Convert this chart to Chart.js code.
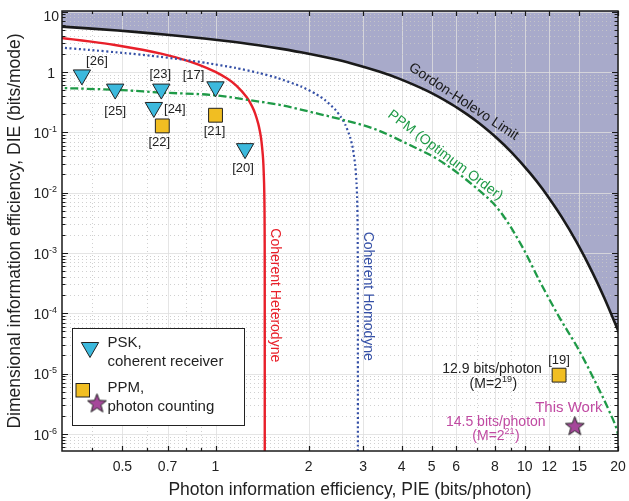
<!DOCTYPE html>
<html lang="en">
<head>
<meta charset="UTF-8">
<title>PIE vs DIE</title>
<script src="https://cdn.jsdelivr.net/npm/chart.js@4"></script>
<style>
  html, body { margin: 0; padding: 0; background: #fff; }
</style>
</head>
<body>
<canvas id="pieChart" width="629" height="501"></canvas>
<script>
    // Gordon-Holevo limit (x: PIE bits/photon, y: DIE bits/mode)
    const holevoPIE = [0.290, 0.3278, 0.4834, 0.6212, 0.780, 1.0817, 1.3774, 1.6183, 2.0, 2.3737, 2.7549, 3.3772, 3.9002, 4.8345, 5.8001, 6.523, 7.1008, 8.0937, 9.090, 10.410, 11.409, 13.145, 14.730, 16.467, 18.052, 19.789, 20.374];
    const holevoDIE = [5.80, 5.572, 4.834, 4.3485, 3.9002, 3.2451, 2.7549, 2.4274, 2.0, 1.6616, 1.3774, 1.0132, 0.7800, 0.48345, 0.2900, 0.19569, 0.14202, 0.080937, 0.045451, 0.020820, 0.011409, 3.944e-3, 1.473e-3, 4.940e-4, 1.8052e-4, 5.937e-5, 4.075e-5];

    // Coherent heterodyne
    const heteroPIE = [0.3084, 0.3459, 0.3962, 0.4679, 0.5805, 0.6667, 0.7925, 0.8813, 1.0, 1.0936, 1.1699, 1.2617, 1.3152, 1.3442, 1.3750, 1.3944, 1.4078, 1.4215, 1.4285, 1.4355, 1.4391, 1.4405, 1.4420, 1.4426, 1.4427, 1.4427];
    const heteroDIE = [3.7004, 3.4594, 3.1699, 2.8074, 2.3219, 2.0, 1.585, 1.3219, 1.0, 0.76553, 0.58496, 0.37851, 0.26303, 0.20163, 0.13750, 0.09761, 0.070389, 0.042644, 0.028569, 0.014355, 0.0071955, 0.0043214, 1.442e-3, 1.4427e-4, 1.4427e-5, 4.0e-7];

    // Coherent homodyne
    const homoPIE = [0.2679, 0.3153, 0.3870, 0.5109, 0.6167, 0.7925, 0.9358, 1.1610, 1.3757, 1.5850, 1.8959, 2.1200, 2.2602, 2.4271, 2.5439, 2.6303, 2.7250, 2.7758, 2.8292, 2.8569, 2.8682, 2.8797, 2.8846, 2.8853, 2.8854];
    const homoDIE = [2.6788, 2.5222, 2.3219, 2.0437, 1.8502, 1.5850, 1.4037, 1.1610, 0.9630, 0.7925, 0.5688, 0.4240, 0.3390, 0.24271, 0.17807, 0.13152, 0.08175, 0.055515, 0.028292, 0.014285, 0.0086046, 0.0028797, 2.8846e-4, 2.8853e-5, 4.0e-7];

    // PPM (optimum order)
    const ppmPIE = [0.30, 0.50, 0.66, 1.0, 1.27, 1.63, 2.08, 2.55, 3.25, 4.16, 5.31, 6.81, 8.27, 9.86, 11.13, 12.9, 14.96, 16.96, 18.66, 19.9, 20.5];
    const ppmDIE = [0.545, 0.498, 0.455, 0.409, 0.344, 0.280, 0.210, 0.163, 0.114, 0.0645, 0.0338, 0.0131, 5.05e-3, 1.2e-3, 3.5e-4, 8.7e-5, 2.44e-5, 6.96e-6, 2.5e-6, 1.09e-6, 5.5e-7];

    // experiments
    const pskRefs = ['[26]', '[25]', '[23]', '[24]', '[17]', '[20]'];
    const pskPIE = [0.370, 0.474, 0.668, 0.632, 1.0, 1.246];
    const pskDIE = [0.89, 0.518, 0.518, 0.257, 0.565, 0.0534];

    const ppmRefs = ['[22]', '[21]', '[19]'];
    const ppmExpPIE = [0.673, 1.0, 12.9];
    const ppmExpDIE = [0.127, 0.191, 9.4e-6];

    const thisWorkPIE = [14.5];
    const thisWorkDIE = [1.36e-6];

    // axes
    const xTickValues = [0.4, 0.5, 0.6, 0.7, 0.8, 0.9, 1, 2, 3, 4, 5, 6, 7, 8, 9, 10, 12, 15, 20];
    const xTickLabels = ['', '0.5', '', '0.7', '', '', '1', '2', '3', '4', '5', '6', '', '8', '', '10', '12', '15', '20'];
    const yDecades = [1e-6, 1e-5, 1e-4, 1e-3, 1e-2, 1e-1, 1, 10];
    const yTickLabels = ['10^-6', '10^-5', '10^-4', '10^-3', '10^-2', '10^-1', '1', '10'];

    const FONT = "'Liberation Sans', Arial, Helvetica, sans-serif";
    Chart.defaults.font.family = FONT;

    const toPoints = (xs, ys) => xs.map((x, i) => ({x: x, y: ys[i]}));

    // y ticks: every 1..9 x 10^k inside the range
    const yMin = 5.2e-7, yMax = 10.2;
    const yAllTicks = [];
    for (let e = -7; e <= 1; e++) {
        for (let m = 1; m <= 9; m++) {
            const v = m * Math.pow(10, e);
            if (v >= yMin && v <= yMax) yAllTicks.push(v);
        }
    }
    const isDecade = v => yDecades.some(d => Math.abs(d - v) / d < 1e-6);

    // filled five-point star for "This Work"
    function makeStar(size, fill) {
        const c = document.createElement('canvas');
        c.width = size; c.height = size;
        const g = c.getContext('2d');
        const cx = size / 2, cy = size / 2 + 0.8, ro = size / 2 - 1.5, ri = ro * 0.42;
        g.beginPath();
        for (let i = 0; i < 10; i++) {
            const r = i % 2 ? ri : ro;
            const a = -Math.PI / 2 + i * Math.PI / 5;
            g.lineTo(cx + r * Math.cos(a), cy + r * Math.sin(a));
        }
        g.closePath();
        g.fillStyle = fill; g.fill();
        g.lineWidth = 1; g.strokeStyle = '#222'; g.stroke();
        return c;
    }
    const starImg = makeStar(23, '#a5479a');

    // text with superscripts: parts = [[text, isSup], ...]
    function drawRich(ctx, parts, x, y, align, size, color) {
        const supSize = Math.round(size * 0.66);
        let w = 0;
        parts.forEach(p => {
            ctx.font = (p[1] ? supSize : size) + 'px ' + FONT;
            w += ctx.measureText(p[0]).width;
        });
        let cx = align === 'center' ? x - w / 2 : (align === 'right' ? x - w : x);
        ctx.fillStyle = color;
        ctx.textAlign = 'left';
        ctx.textBaseline = 'middle';
        parts.forEach(p => {
            ctx.font = (p[1] ? supSize : size) + 'px ' + FONT;
            ctx.fillText(p[0], cx, p[1] ? y - size * 0.34 : y);
            cx += ctx.measureText(p[0]).width + (p[1] ? 0.5 : 0);
        });
    }

    function drawText(ctx, text, x, y, size, color, angleDeg, align) {
        ctx.save();
        ctx.translate(x, y);
        ctx.rotate((angleDeg || 0) * Math.PI / 180);
        ctx.font = size + 'px ' + FONT;
        ctx.fillStyle = color;
        ctx.textAlign = align || 'center';
        ctx.textBaseline = 'middle';
        ctx.fillText(text, 0, 0);
        ctx.restore();
    }

    // label offsets (pixels) from each marker
    const refOffsets = {
        '[26]': [15, -13], '[25]': [0, 22], '[23]': [-1, -15], '[24]': [21, 2],
        '[17]': [-22, -11], '[20]': [-2, 20], '[22]': [-3, 16], '[21]': [-1, 16.5], '[19]': [0, -15]
    };

    const paperPlugin = {
        id: 'paper',
        // grid goes over the shaded region but under the curves
        beforeDatasetsDraw(chart) {
            const ctx = chart.ctx, a = chart.chartArea;
            const xs = chart.scales.x, ys = chart.scales.y;
            ctx.save();
            ctx.lineWidth = 1;
            xTickValues.forEach((v, i) => {
                const p = Math.round(xs.getPixelForValue(v)) + 0.5;
                const major = xTickLabels[i] !== '';
                ctx.strokeStyle = major ? 'rgba(222,222,222,0.8)' : 'rgba(200,200,200,0.85)';
                ctx.setLineDash(major ? [] : [1, 3]);
                ctx.beginPath(); ctx.moveTo(p, a.top); ctx.lineTo(p, a.bottom); ctx.stroke();
            });
            yAllTicks.forEach(v => {
                const p = Math.round(ys.getPixelForValue(v)) + 0.5;
                const major = isDecade(v);
                ctx.strokeStyle = major ? 'rgba(222,222,222,0.8)' : 'rgba(200,200,200,0.85)';
                ctx.setLineDash(major ? [] : [1, 3]);
                ctx.beginPath(); ctx.moveTo(a.left, p); ctx.lineTo(a.right, p); ctx.stroke();
            });
            ctx.restore();
        },
        afterDatasetsDraw(chart) {
            const ctx = chart.ctx;
            const xs = chart.scales.x, ys = chart.scales.y;
            const px = v => xs.getPixelForValue(v), py = v => ys.getPixelForValue(v);

            drawText(ctx, 'Gordon-Holevo Limit', px(6.34), py(0.319), 14, '#1a1a1a', 33.5);
            drawText(ctx, 'PPM (Optimum Order)', px(5.53), py(0.0413), 14, '#1f9a47', 37);
            drawText(ctx, 'Coherent Heterodyne', px(1.555), py(1.98e-4), 14, '#e8202a', 90);
            drawText(ctx, 'Coherent Homodyne', px(3.117), py(1.91e-4), 14, '#3550a6', 90);

            const refs = pskRefs.map((r, i) => [r, pskPIE[i], pskDIE[i]])
                .concat(ppmRefs.map((r, i) => [r, ppmExpPIE[i], ppmExpDIE[i]]));
            refs.forEach(r => {
                const o = refOffsets[r[0]];
                drawText(ctx, r[0], px(r[1]) + o[0], py(r[2]) + o[1], 13, '#222');
            });

            // [19] and this work notes
            const x19 = px(ppmExpPIE[2]), y19 = py(ppmExpDIE[2]);
            drawRich(ctx, [['12.9 bits/photon', false]], x19 - 67, y19 - 6, 'center', 14, '#222');
            drawRich(ctx, [['(M=2', false], ['19', true], [')', false]], x19 - 66, y19 + 9, 'center', 14, '#222');
            const xw = px(thisWorkPIE[0]), yw = py(thisWorkDIE[0]);
            drawText(ctx, 'This Work', xw - 6, yw - 18, 15, '#c04aa2');
            drawRich(ctx, [['14.5 bits/photon', false]], xw - 79, yw - 4, 'center', 14, '#c04aa2');
            drawRich(ctx, [['(M=2', false], ['21', true], [')', false]], xw - 79, yw + 10, 'center', 14, '#c04aa2');
        },
        afterDraw(chart) {
            const ctx = chart.ctx, a = chart.chartArea;
            const xs = chart.scales.x, ys = chart.scales.y;
            ctx.save();
            // inward tick marks on all four sides
            ctx.strokeStyle = '#1a1a1a';
            ctx.lineWidth = 1.2;
            xTickValues.forEach((v, i) => {
                const p = Math.round(xs.getPixelForValue(v)) + 0.5;
                const len = xTickLabels[i] !== '' ? 5 : 3;
                ctx.beginPath();
                ctx.moveTo(p, a.bottom); ctx.lineTo(p, a.bottom - len);
                ctx.moveTo(p, a.top); ctx.lineTo(p, a.top + len);
                ctx.stroke();
            });
            yAllTicks.forEach(v => {
                const p = Math.round(ys.getPixelForValue(v)) + 0.5;
                const len = isDecade(v) ? 6 : 3.5;
                ctx.beginPath();
                ctx.moveTo(a.left, p); ctx.lineTo(a.left + len, p);
                ctx.moveTo(a.right, p); ctx.lineTo(a.right - len, p);
                ctx.stroke();
            });
            ctx.lineWidth = 1.5;
            ctx.strokeRect(a.left, a.top, a.right - a.left, a.bottom - a.top);

            // y tick labels with superscripts
            yDecades.forEach((v, i) => {
                const p = Math.max(ys.getPixelForValue(v) + 2, a.top + 6);
                const parts = yTickLabels[i].split('^');
                if (parts.length === 2) {
                    drawRich(ctx, [[parts[0], false], [parts[1], true]], a.left - 5, p, 'right', 14, '#222');
                } else {
                    drawRich(ctx, [[parts[0], false]], a.left - (v === 10 ? 3 : 7), p, 'right', 14, '#222');
                }
            });

            // axis titles
            drawText(ctx, 'Photon information efficiency, PIE (bits/photon)', (a.left + a.right) / 2 + 10, 490, 17.5, '#222', 0);
            drawText(ctx, 'Dimensional information efficiency, DIE (bits/mode)', 15, (a.top + a.bottom) / 2, 17.5, '#222', -90);

            // legend box
            const lx = a.left + 10.5, ly = a.top + 317.5;
            ctx.fillStyle = '#fff';
            ctx.fillRect(lx, ly, 172, 97);
            ctx.strokeStyle = '#222';
            ctx.lineWidth = 1;
            ctx.strokeRect(lx, ly, 172, 97);

            // triangle
            const tx = lx + 17.5, ty = ly + 19, r = 10;
            ctx.beginPath();
            ctx.moveTo(tx, ty + r);
            ctx.lineTo(tx - r * 0.866, ty - r / 2);
            ctx.lineTo(tx + r * 0.866, ty - r / 2);
            ctx.closePath();
            ctx.fillStyle = '#3cb9dd'; ctx.fill(); ctx.stroke();
            // square
            ctx.fillStyle = '#f1be22';
            ctx.fillRect(lx + 3.5, ly + 55, 13.5, 13.5);
            ctx.strokeRect(lx + 3.5, ly + 55, 13.5, 13.5);
            // star
            ctx.drawImage(starImg, lx + 24.5 - starImg.width / 2, ly + 74.5 - starImg.height / 2);

            drawText(ctx, 'PSK,', lx + 35, ly + 14, 15, '#222', 0, 'left');
            drawText(ctx, 'coherent receiver', lx + 35, ly + 33, 15, '#222', 0, 'left');
            drawText(ctx, 'PPM,', lx + 35, ly + 59.5, 15, '#222', 0, 'left');
            drawText(ctx, 'photon counting', lx + 35, ly + 78.5, 15, '#222', 0, 'left');
            ctx.restore();
        }
    };

    const ctx = document.getElementById('pieChart').getContext('2d');
    const pieChart = new Chart(ctx, {
        type: 'scatter',
        data: {
            datasets: [
                {
                    label: 'This Work',
                    data: toPoints(thisWorkPIE, thisWorkDIE),
                    pointStyle: starImg,
                    order: 0
                },
                {
                    label: 'PPM, photon counting',
                    data: toPoints(ppmExpPIE, ppmExpDIE),
                    pointStyle: 'rect',
                    pointRadius: 9.8,
                    backgroundColor: '#f1be22',
                    borderColor: '#222',
                    borderWidth: 1,
                    order: 0
                },
                {
                    label: 'PSK, coherent receiver',
                    data: toPoints(pskPIE, pskDIE),
                    pointStyle: 'triangle',
                    rotation: 180,
                    pointRadius: 10,
                    backgroundColor: '#3cb9dd',
                    borderColor: '#222',
                    borderWidth: 1,
                    order: 0
                },
                {
                    label: 'PPM (Optimum Order)',
                    data: toPoints(ppmPIE, ppmDIE),
                    showLine: true,
                    pointRadius: 0,
                    borderColor: '#1f9a47',
                    borderWidth: 2.3,
                    borderDash: [8, 3, 2.5, 3],
                    cubicInterpolationMode: 'monotone',
                    order: 1
                },
                {
                    label: 'Coherent Homodyne',
                    data: toPoints(homoPIE, homoDIE),
                    showLine: true,
                    pointRadius: 0,
                    borderColor: '#3550a6',
                    borderWidth: 2.2,
                    borderDash: [2, 2.6],
                    tension: 0.2,
                    order: 2
                },
                {
                    label: 'Coherent Heterodyne',
                    data: toPoints(heteroPIE, heteroDIE),
                    showLine: true,
                    pointRadius: 0,
                    borderColor: '#e8202a',
                    borderWidth: 2.4,
                    tension: 0.2,
                    order: 3
                },
                {
                    label: 'Gordon-Holevo Limit',
                    data: toPoints(holevoPIE, holevoDIE),
                    showLine: true,
                    pointRadius: 0,
                    borderColor: '#1a1a1a',
                    borderWidth: 2.6,
                    backgroundColor: 'rgb(168,170,202)',
                    fill: 'end',
                    tension: 0.3,
                    order: 5
                }
            ]
        },
        options: {
            responsive: false,
            animation: false,
            events: [],
            layout: { padding: { left: 0, right: 8, top: 10, bottom: 0 } },
            plugins: {
                legend: { display: false },
                tooltip: { enabled: false },
                filler: { drawTime: 'beforeDatasetsDraw' }
            },
            scales: {
                x: {
                    type: 'logarithmic',
                    bounds: 'data',
                    min: 0.319,
                    max: 20,
                    grid: { display: false, drawTicks: false },
                    border: { display: false },
                    afterBuildTicks: s => { s.ticks = xTickValues.map(v => ({value: v})); },
                    afterFit: s => { s.height = 50; s.paddingLeft = 0; s.paddingRight = 0; },
                    ticks: {
                        autoSkip: false,
                        maxRotation: 0,
                        minRotation: 0,
                        padding: 8,
                        color: '#222',
                        font: { size: 14 },
                        callback: v => {
                            const i = xTickValues.indexOf(v);
                            return i >= 0 ? xTickLabels[i] : '';
                        }
                    }
                },
                y: {
                    type: 'logarithmic',
                    bounds: 'data',
                    min: yMin,
                    max: yMax,
                    grid: { display: false, drawTicks: false },
                    border: { display: false },
                    afterBuildTicks: s => { s.ticks = yAllTicks.map(v => ({value: v})); },
                    afterFit: s => { s.width = 62; s.paddingTop = 0; s.paddingBottom = 0; },
                    ticks: { display: false }
                }
            }
        },
        plugins: [paperPlugin]
    });
</script>
</body>
</html>
